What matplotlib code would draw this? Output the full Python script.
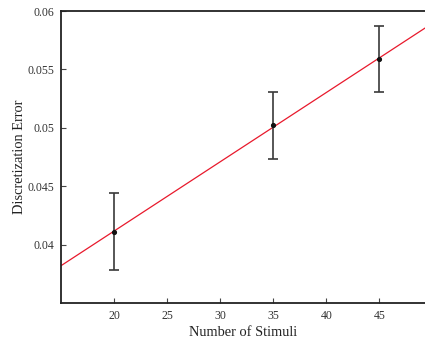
import numpy as np
import matplotlib.pyplot as plt

plt.rcParams['font.family'] = ['Liberation Serif', 'DejaVu Serif']

# Mean discretization error per stimulus count, with error bar half-widths
stimuli = np.array([20, 35, 45])
error = np.array([0.0411, 0.0502, 0.0559])
error_sd = np.array([0.0033, 0.0029, 0.0028])
x_ticks = [20, 25, 30, 35, 40, 45]
y_ticks = [0.04, 0.045, 0.05, 0.055, 0.06]
y_tick_labels = ['0.04', '0.045', '0.05', '0.055', '0.06']

fig = plt.figure(figsize=(4.25, 3.41), dpi=100)
ax = fig.add_axes([61 / 425, 1 - 303 / 341, 1 - 61 / 425, 292 / 341])

# Linear fit through the means
slope, intercept = np.polyfit(stimuli, error, 1)
xs = np.array([15, 49.3])
ax.plot(xs, slope * xs + intercept, color='#e8192c', lw=0.9, zorder=2)

ax.errorbar(stimuli, error, yerr=error_sd, fmt='none', ecolor='#3a3a3a',
            elinewidth=1.2, capsize=3.4, capthick=1.2, zorder=3)
ax.plot(stimuli, error, 'o', color='#111111', ms=2.7, zorder=4)

ax.set_xlim(15, 49.3)
ax.set_ylim(0.035, 0.06)
ax.set_xticks(x_ticks)
ax.set_yticks(y_ticks)
ax.set_yticklabels(y_tick_labels)
ax.tick_params(direction='in', length=3.5, width=0.8, color='#444444',
               labelsize=8.5, labelcolor='#333333', pad=5)
ax.spines['right'].set_visible(False)
for s in ['left', 'bottom', 'top']:
    ax.spines[s].set_linewidth(1.3)
    ax.spines[s].set_color('#222222')

ax.set_xlabel('Number of Stimuli', fontsize=10.4, color='#222222', labelpad=3)
ax.set_ylabel('Discretization Error', fontsize=10.4, color='#222222')
ax.yaxis.set_label_coords(-0.097, 0.5)

fig.savefig('out.png', dpi=100)
